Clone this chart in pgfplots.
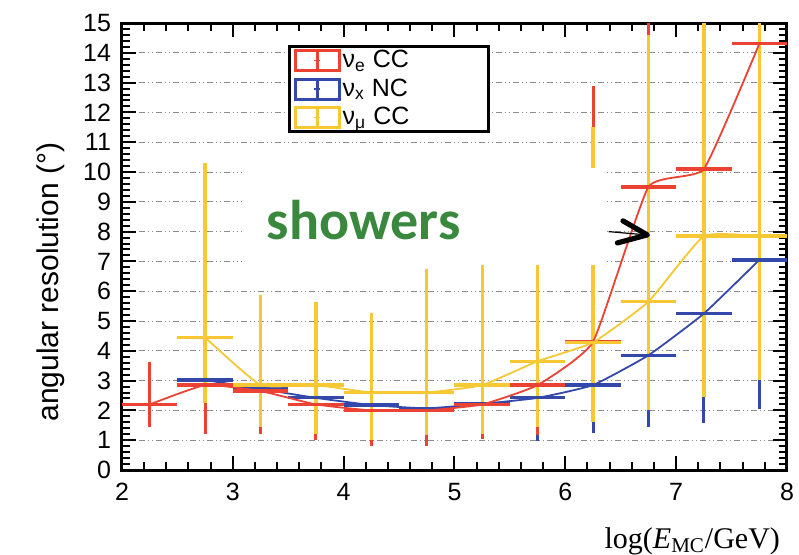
\documentclass[border=0pt]{standalone}
\usepackage{fontspec}
\setmainfont{Liberation Sans}
\newfontfamily\seriffont{Liberation Serif}
\newfontfamily\carlito{Carlito}
\usepackage{pgfplots}
\pgfplotsset{compat=1.18}
\usepackage{pgfplotstable}
\definecolor{redc}{RGB}{236,66,52}
\definecolor{bluec}{RGB}{52,72,170}
\definecolor{yelc}{RGB}{245,200,52}
\definecolor{greenc}{RGB}{58,135,62}
\definecolor{gridc}{RGB}{140,140,140}

% x y ep em  (ep = upper - y, em = y - lower)
\pgfplotstableread{
x y ep em
2.25 2.20 1.43 0.75
2.75 2.85 1.15 1.65
3.25 2.65 1.15 1.45
3.75 2.20 1.30 1.20
4.25 2.00 1.50 1.20
4.75 2.00 1.50 1.20
5.25 2.20 1.30 1.16
5.75 2.85 1.15 1.68
6.25 4.30 8.60 2.50
6.75 9.50 6.50 6.50
7.25 10.10 5.90 6.10
7.75 14.30 1.70 10.30
}\redtab

\pgfplotstableread{
x y ep em
2.75 3.02 0.98 1.42
3.25 2.72 1.08 1.22
3.75 2.42 1.08 1.12
4.25 2.18 1.32 1.08
4.75 2.07 1.43 1.07
5.25 2.22 1.28 1.12
5.75 2.42 1.58 1.44
6.25 2.85 2.15 1.61
6.75 3.85 4.15 2.41
7.25 5.25 4.75 3.66
7.75 7.05 4.95 5.00
}\bluetab

\pgfplotstableread{
x y ep em
2.75 4.45 5.85 2.20
3.25 2.85 3.02 1.40
3.75 2.85 2.80 1.65
4.25 2.60 2.67 1.60
4.75 2.60 4.15 1.43
5.25 2.85 4.65 1.65
5.75 3.65 3.85 2.20
6.25 4.28 7.22 2.66
6.75 5.65 8.95 3.65
7.25 7.85 8.15 5.40
7.75 7.85 8.15 4.83
}\yeltab

\begin{document}
\begin{tikzpicture}
\path[use as bounding box] (-61pt,-42pt) rectangle (338.5pt,235pt);
\begin{axis}[
  at={(0,0)}, anchor=south west, scale only axis,
  width=332.5pt, height=223.5pt,
  xmin=2, xmax=8, ymin=0, ymax=15,
  xtick={2,...,8}, ytick={0,...,15},
  minor x tick num=4, minor y tick num=4,
  tick align=inside, tick pos=both,
  xticklabel pos=left, yticklabel pos=left,
  axis line style={line width=1.5pt},
  every tick/.style={black, line width=1pt},
  major tick length=7pt, minor tick length=4pt,
  /pgf/number format/assume math mode=true,
  ticklabel style={font=\fontsize{12.5}{14}\selectfont},
  yticklabel style={xshift=-2pt},
  xticklabel style={yshift=-3pt},
  ymajorgrids,
  major grid style={gridc, line width=0.5pt, dash pattern=on 3pt off 1.5pt on 0.5pt off 1.5pt on 0.5pt off 1.5pt},
  xlabel={\seriffont log(\textit{E}\textsubscript{MC}/GeV)},
  xlabel style={at={(axis description cs:1,0)}, anchor=base east, yshift=-39pt, font=\fontsize{15}{17}\selectfont},
  ylabel={angular resolution (°)},
  ylabel style={at={(axis description cs:-0.1068,0.42)}, anchor=center, font=\fontsize{15}{17}\selectfont},
  legend style={at={(0.25,0.951)}, anchor=north west, draw=black, line width=1.5pt, fill=white,
    font=\fontsize{12.5}{14}\selectfont, inner xsep=2pt, inner ysep=0pt, row sep=0pt,
    nodes={inner sep=1pt, minimum height=14.2pt}},
  legend cell align=left,
]
% vertical error bars
\addplot[forget plot, draw=none, mark=none, error bars/.cd, y dir=both, y explicit, error mark=none,
  error bar style={draw=bluec, line width=1.5pt}] table[x=x, y=y, y error plus=ep, y error minus=em]{\bluetab};
\addplot[forget plot, draw=none, mark=none, error bars/.cd, y dir=both, y explicit, error mark=none,
  error bar style={draw=redc, line width=1.5pt}] table[x=x, y=y, y error plus=ep, y error minus=em]{\redtab};
\addplot[forget plot, draw=none, mark=none, error bars/.cd, y dir=both, y explicit, error mark=none,
  error bar style={draw=yelc, line width=1.7pt}] table[x=x, y=y, y error plus=ep, y error minus=em]{\yeltab};
% lines and horizontal bars
\addplot[forget plot, bluec, line width=0.9pt, smooth, tension=0.25, mark=none,
  error bars/.cd, x dir=both, x fixed=0.25, error mark=none, error bar style={draw=bluec, line width=1.6pt}]
  table[x=x, y=y]{\bluetab};
\addplot[forget plot, redc, line width=0.9pt, smooth, tension=0.25, mark=none,
  error bars/.cd, x dir=both, x fixed=0.25, error mark=none, error bar style={draw=redc, line width=1.6pt}]
  table[x=x, y=y]{\redtab};
\addplot[forget plot, yelc, line width=0.9pt, smooth, tension=0.25, mark=none,
  error bars/.cd, x dir=both, x fixed=0.25, error mark=none, error bar style={draw=yelc, line width=1.6pt}]
  table[x=x, y=y]{\yeltab};

% white patch behind the label, label and arrow
\fill[white] (axis cs:3.08,6.88) rectangle (axis cs:6.36,10.13);
\node[font=\carlito\bfseries\fontsize{28}{30}\selectfont, text=greenc, anchor=base] at (axis cs:4.18,7.72) {showers};
\draw[line width=2.6pt, line cap=round, line join=round] (axis cs:6.52,8.36) -- (axis cs:6.74,7.89) -- (axis cs:6.47,7.62);
\draw[line width=0.6pt] (axis cs:6.39,8.0) -- (axis cs:6.7,7.9);

\addlegendimage{redc, legend image code/.code={\path (0pt,-5pt) rectangle (22pt,5pt); \draw[line width=1.3pt] (11pt,-4.5pt) -- (11pt,4.5pt); \draw[line width=0.7pt] (9.5pt,0pt) -- (12.5pt,0pt);}}
\addlegendentry{\makebox[70pt][l]{ν\textsubscript{e} CC}}
\addlegendimage{bluec, legend image code/.code={\path (0pt,-5pt) rectangle (22pt,5pt); \draw[line width=1.3pt] (11pt,-4.5pt) -- (11pt,4.5pt); \draw[line width=0.7pt] (9.5pt,0pt) -- (12.5pt,0pt);}}
\addlegendentry{\makebox[70pt][l]{ν\textsubscript{x} NC}}
\addlegendimage{yelc, legend image code/.code={\path (0pt,-5pt) rectangle (22pt,5pt); \draw[line width=1.3pt] (11pt,-4.5pt) -- (11pt,4.5pt); \draw[line width=0.7pt] (9.5pt,0pt) -- (12.5pt,0pt);}}
\addlegendentry{\makebox[70pt][l]{ν\textsubscript{μ} CC}}
\end{axis}
\end{tikzpicture}
\end{document}
